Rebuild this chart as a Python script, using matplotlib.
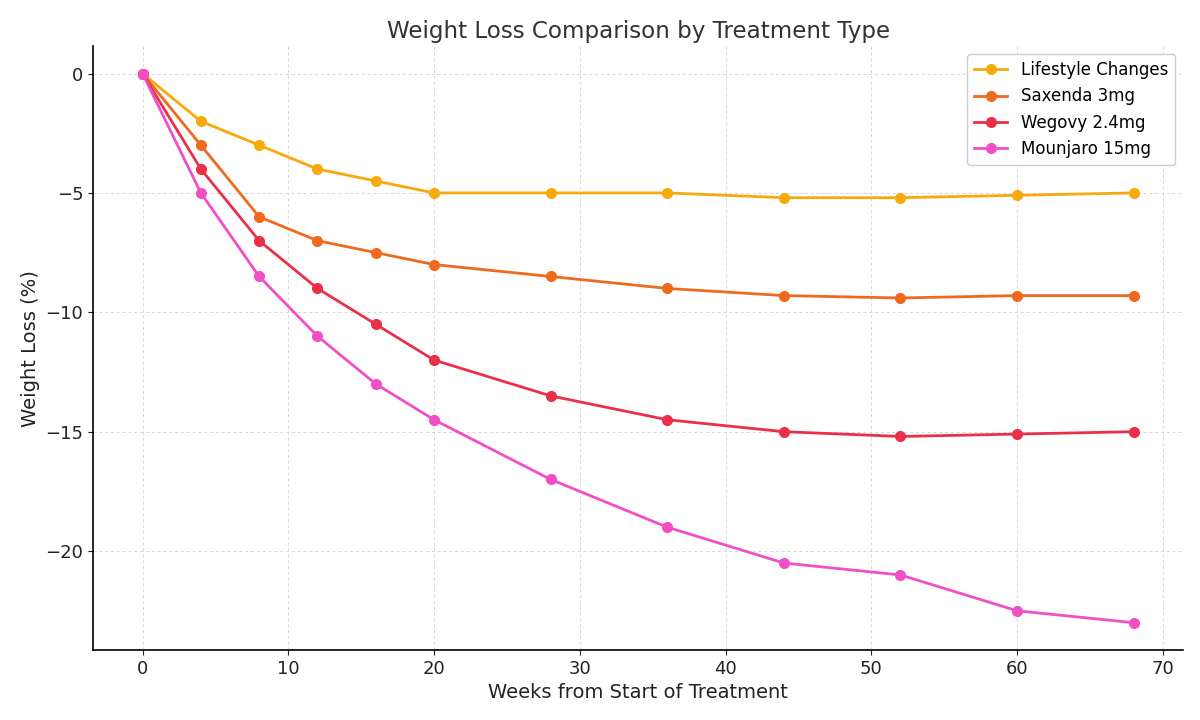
import matplotlib
matplotlib.use("Agg")
from matplotlib import pyplot as plt

# Weeks since start
weeks = [0, 4, 8, 12, 16, 20, 28, 36, 44, 52, 60, 68]

# Weight loss (%) per treatment
lifestyle = [0, -2, -3, -4, -4.5, -5, -5, -5, -5.2, -5.2, -5.1, -5]
saxenda = [0, -3, -6, -7, -7.5, -8, -8.5, -9, -9.3, -9.4, -9.3, -9.3]
wegovy = [0, -4, -7, -9, -10.5, -12, -13.5, -14.5, -15, -15.2, -15.1, -15]
mounjaro = [0, -5, -8.5, -11, -13, -14.5, -17, -19, -20.5, -21, -22.5, -23]

labels = ["Lifestyle Changes", "Saxenda 3mg", "Wegovy 2.4mg", "Mounjaro 15mg"]
colors = ["#F8A90C", "#F06A1E", "#EA3049", "#F24FC6"]

fig = plt.figure(figsize=(12, 7.2), dpi=100)
ax = fig.add_axes([0.0775, 0.097, 0.9085, 0.839])

for series, lab, col in zip([lifestyle, saxenda, wegovy, mounjaro], labels, colors):
    ax.plot(weeks, series, marker="o", markersize=7, linewidth=2, color=col, label=lab)

ax.set_title("Weight Loss Comparison by Treatment Type", fontsize=16.6, color="#333333")
ax.set_xlabel("Weeks from Start of Treatment", fontsize=14, color="#222222")
ax.set_ylabel("Weight Loss (%)", fontsize=14, color="#222222")
ax.tick_params(labelsize=13, colors="#222222")

# light dashed grid
ax.grid(True, linestyle=(0, (3, 3)), color="#d6d6d6", linewidth=0.7)
ax.spines["top"].set_visible(False)
ax.spines["right"].set_visible(False)
ax.spines["left"].set_linewidth(1.2)
ax.spines["bottom"].set_linewidth(1.2)

ax.legend(loc="upper right", fontsize=12, framealpha=1, edgecolor="#cccccc")

fig.savefig("out.png")
